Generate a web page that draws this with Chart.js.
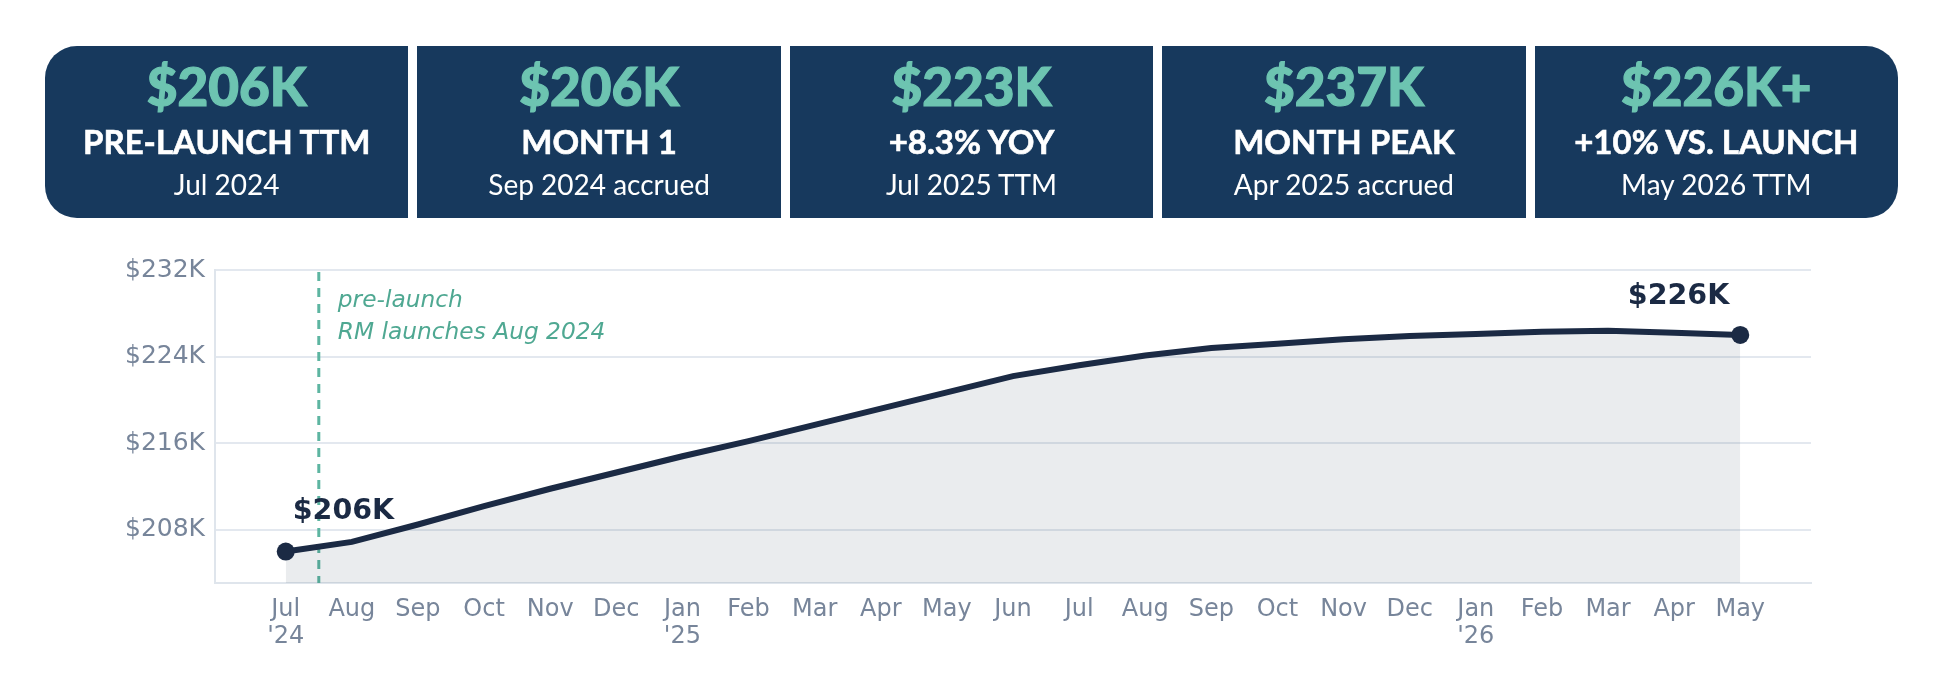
<!DOCTYPE html>
<html>
<head>
<meta charset="utf-8">
<script src="https://cdn.jsdelivr.net/npm/chart.js@4.4.0/dist/chart.umd.min.js"></script>
<style>
  html, body { margin: 0; padding: 0; background: #ffffff; }
  #page { position: relative; width: 1950px; height: 684px; overflow: hidden; }
  #cards { position: absolute; left: 45px; top: 46px; width: 1853px; height: 172px; display: flex; gap: 9px; }
  .card { position: relative; flex: 1; background: #17395d; color: #ffffff; font-family: "Lato", sans-serif; text-align: center; }
  .card:first-child { border-radius: 32px 0 0 32px; }
  .card:last-child { border-radius: 0 32px 32px 0; }
  .card div { position: absolute; left: 0; right: 0; white-space: nowrap; }
  .value { top: 14px; font-size: 53px; line-height: 52px; font-weight: 900; color: #6dc4b1; -webkit-text-stroke: 1.2px #6dc4b1; }
  .title { top: 79px; font-size: 33px; line-height: 33px; font-weight: 700; -webkit-text-stroke: 0.6px #ffffff; }
  .sub { top: 124px; font-size: 28px; line-height: 28px; font-weight: 400; }
  #chartBox { position: absolute; left: 0; top: 0; width: 1950px; height: 684px; }
</style>
</head>
<body>
<div id="page">
  <div id="chartBox"><canvas id="ttmChart"></canvas></div>
  <div id="cards"></div>
</div>
<script>
// ================= DATA =================

const cardValues = ["$206K", "$206K", "$223K", "$237K", "$226K+"];
const cardTitles = ["PRE-LAUNCH TTM", "MONTH 1", "+8.3% YOY", "MONTH PEAK", "+10% VS. LAUNCH"];
const cardSubtitles = ["Jul 2024", "Sep 2024 accrued", "Jul 2025 TTM", "Apr 2025 accrued", "May 2026 TTM"];

const monthLabels = [
    ["Jul", "'24"], "Aug", "Sep", "Oct", "Nov", "Dec",
    ["Jan", "'25"], "Feb", "Mar", "Apr", "May", "Jun",
    "Jul", "Aug", "Sep", "Oct", "Nov", "Dec",
    ["Jan", "'26"], "Feb", "Mar", "Apr", "May"
];

// TTM revenue, $K
const ttmValues = [
    206.0, 206.9, 208.5, 210.2, 211.8, 213.3,
    214.8, 216.2, 217.7, 219.2, 220.7, 222.2,
    223.2, 224.1, 224.8, 225.2, 225.6, 225.9,
    226.1, 226.3, 226.4, 226.2, 226.0
];

const yTickValues = [208, 216, 224, 232];
const launchPosition = 0.5;   // between Jul and Aug 2024
const launchLines = ["pre-launch", "RM launches Aug 2024"];


// ================= KPI CARDS =================

const cardsEl = document.getElementById("cards");

cardValues.forEach((value, i) => {
    const card = document.createElement("div");
    card.className = "card";

    const v = document.createElement("div");
    v.className = "value";
    v.textContent = value;

    const t = document.createElement("div");
    t.className = "title";
    t.textContent = cardTitles[i];

    const s = document.createElement("div");
    s.className = "sub";
    s.textContent = cardSubtitles[i];

    card.append(v, t, s);
    cardsEl.appendChild(card);
});


// ================= TTM CHART =================

const navy = "#1b2a44";
const teal = "#4fa892";
const tickGrey = "#77859a";

// Launch marker, annotation text and end-point labels
const overlay = {
    id: "overlay",

    beforeDatasetsDraw(chart) {
        const { ctx, chartArea, scales } = chart;
        const x = scales.x.getPixelForValue(launchPosition);

        ctx.save();
        ctx.strokeStyle = "#5db5a1";
        ctx.lineWidth = 3;
        ctx.setLineDash([9, 7]);
        ctx.beginPath();
        ctx.moveTo(x, chartArea.top + 2);
        ctx.lineTo(x, chartArea.bottom);
        ctx.stroke();
        ctx.setLineDash([]);

        ctx.fillStyle = teal;
        ctx.font = "italic 23.3px 'DejaVu Sans'";
        ctx.textAlign = "left";
        ctx.textBaseline = "middle";
        ctx.fillText(launchLines[0], x + 19, chartArea.top + 31);
        ctx.fillText(launchLines[1], x + 19, chartArea.top + 63);
        ctx.restore();
    },

    afterDatasetsDraw(chart) {
        const { ctx, scales } = chart;
        const last = ttmValues.length - 1;

        ctx.save();
        ctx.fillStyle = navy;
        ctx.font = "bold 28.5px 'DejaVu Sans'";
        ctx.textBaseline = "alphabetic";

        const x0 = scales.x.getPixelForValue(0);
        const y0 = scales.y.getPixelForValue(ttmValues[0]);
        ctx.textAlign = "left";
        ctx.fillText("$" + Math.round(ttmValues[0]) + "K", x0 + 7, y0 - 33);

        const x1 = scales.x.getPixelForValue(last);
        const y1 = scales.y.getPixelForValue(ttmValues[last]);
        ctx.textAlign = "right";
        ctx.fillText("$" + Math.round(ttmValues[last]) + "K", x1 - 11, y1 - 31);
        ctx.restore();
    }
};

new Chart(
    document.getElementById("ttmChart"),
    {
        type: "line",

        data: {
            datasets: [
                {
                    data: ttmValues.map((v, i) => ({ x: i, y: v })),
                    borderColor: navy,
                    borderWidth: 6,
                    tension: 0,
                    fill: "start",
                    backgroundColor: "rgba(27,42,68,0.09)",
                    pointRadius: ttmValues.map((v, i) =>
                        (i === 0 || i === ttmValues.length - 1) ? 9 : 0),
                    pointBackgroundColor: navy,
                    pointBorderWidth: 0,
                    clip: false
                }
            ]
        },

        options: {
            responsive: true,
            maintainAspectRatio: false,
            animation: false,
            events: [],

            layout: {
                padding: { top: 270, right: 139, left: 0, bottom: 0 }
            },

            plugins: {
                legend: { display: false },
                tooltip: { enabled: false }
            },

            scales: {
                x: {
                    type: "linear",
                    min: -1.07,
                    max: ttmValues.length - 1 + 1.07,
                    afterBuildTicks(axis) {
                        axis.ticks = monthLabels.map((m, i) => ({ value: i }));
                    },
                    afterFit(axis) {
                        axis.height = 101;
                    },
                    grid: { display: false },
                    border: { display: true, color: "#dfe5ec", width: 2 },
                    ticks: {
                        autoSkip: false,
                        maxRotation: 0,
                        padding: 5,
                        color: tickGrey,
                        font: { family: "DejaVu Sans", size: 24, lineHeight: 1.12 },
                        callback: (value) => monthLabels[value]
                    }
                },

                y: {
                    min: 203.1,
                    max: 232,
                    afterBuildTicks(axis) {
                        axis.ticks = yTickValues.map(v => ({ value: v }));
                    },
                    afterFit(axis) {
                        axis.width = 215;
                    },
                    grid: {
                        color: "#e3e8ef",
                        lineWidth: 2,
                        drawTicks: false
                    },
                    border: { display: true, color: "#dfe5ec", width: 2 },
                    ticks: {
                        padding: 10,
                        color: tickGrey,
                        font: { family: "DejaVu Sans", size: 25 },
                        callback: (value) => "$" + value + "K"
                    }
                }
            }
        },

        plugins: [overlay]
    }
);
</script>
</body>
</html>
